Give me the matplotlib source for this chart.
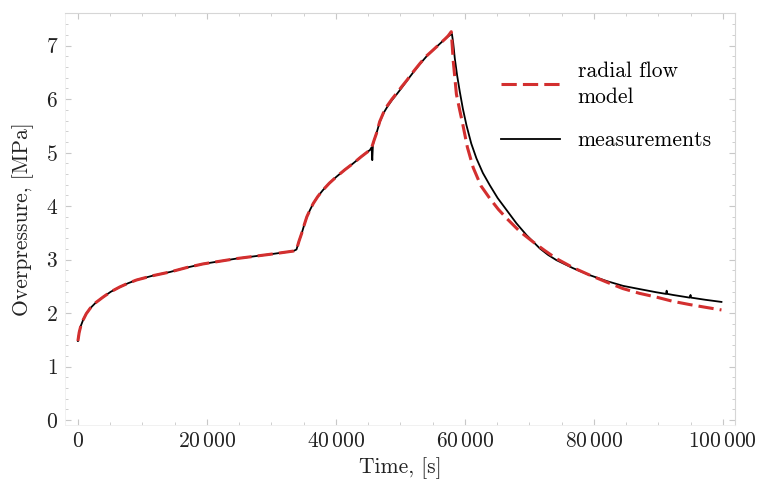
import matplotlib
matplotlib.use("Agg")
import matplotlib.pyplot as plt
from matplotlib.ticker import MultipleLocator, FuncFormatter

plt.rcParams["font.family"] = "serif"
plt.rcParams["font.serif"] = ["cmr10", "DejaVu Serif"]
plt.rcParams["mathtext.fontset"] = "cm"
plt.rcParams["axes.unicode_minus"] = False
plt.rcParams["axes.formatter.use_mathtext"] = True

# radial flow model (red dashed)
t_model = [0, 200, 450, 800, 1300, 1900, 2800, 3900, 5100, 6500, 7800, 9100, 11600,
           14300, 16800, 19400, 22000, 24600, 27200, 29800, 31600, 33400, 33900,
           34300, 34700, 35100, 35500, 36000, 36500, 37200, 38000, 39000, 40100,
           41400, 42700, 44000, 45300, 45600,
           45900, 46300, 46800, 47400, 48000, 48700, 49500, 50200, 51000, 52000,
           53000, 54000, 55100, 56000, 56900, 57400, 57900,
           58050, 58200, 58700, 59200, 59700, 60400, 61300, 62500, 63900, 65200,
           66500, 68500, 70600, 72400, 74200, 76800, 79400, 82000, 84500, 87100,
           89700, 92300, 94900, 97300, 99800]
p_model = [1.48, 1.64, 1.76, 1.87, 1.99, 2.09, 2.20, 2.30, 2.40, 2.49, 2.56, 2.62, 2.70,
           2.77, 2.85, 2.92, 2.97, 3.02, 3.06, 3.10, 3.13, 3.16, 3.19,
           3.35, 3.49, 3.65, 3.80, 3.93, 4.05, 4.18, 4.30, 4.43, 4.55,
           4.68, 4.80, 4.93, 5.05, 5.11,
           5.22, 5.36, 5.58, 5.75, 5.88, 6.00, 6.12, 6.23, 6.35, 6.51,
           6.66, 6.80, 6.92, 7.02, 7.12, 7.18, 7.26,
           7.00, 6.72, 6.09, 5.80, 5.52, 5.10, 4.72, 4.38, 4.14, 3.94,
           3.77, 3.53, 3.33, 3.17, 3.02, 2.85, 2.71, 2.58, 2.46, 2.37,
           2.30, 2.22, 2.16, 2.11, 2.06]

# measurements (black)
t_meas = [0, 200, 450, 800, 1300, 1900, 2800, 3900, 5100, 6500, 7800, 9100, 11600,
          14300, 16800, 19400, 22000, 24600, 27200, 29800, 31600, 33400, 33900,
          34300, 34700, 35100, 35500, 36000, 36500, 37200, 38000, 39000, 40100,
          41400, 42700, 44000, 45300, 45550, 45650, 45750,
          45900, 46300, 46800, 47400, 48000, 48700, 49500, 50200, 51000, 52000,
          53000, 54000, 55100, 56000, 56900, 57400, 58000,
          58200, 58450, 58800, 59220, 59700, 60260, 61000, 61810, 62800, 63880,
          65100, 66460, 68000, 69560, 71630, 72900, 74220, 76800, 79380, 82000,
          84540, 87100, 89720, 91200, 91300, 91400, 92300, 94880, 95000, 95100,
          97300, 99800]
p_meas = [1.48, 1.64, 1.76, 1.87, 1.99, 2.09, 2.20, 2.30, 2.40, 2.49, 2.56, 2.62, 2.70,
          2.77, 2.85, 2.92, 2.97, 3.02, 3.06, 3.10, 3.13, 3.16, 3.19,
          3.35, 3.49, 3.65, 3.80, 3.93, 4.05, 4.18, 4.30, 4.43, 4.55,
          4.68, 4.80, 4.93, 5.05, 5.10, 4.86, 5.14,
          5.22, 5.36, 5.57, 5.74, 5.86, 5.98, 6.10, 6.21, 6.34, 6.50,
          6.65, 6.79, 6.92, 7.02, 7.12, 7.17, 7.22,
          7.05, 6.76, 6.45, 6.14, 5.82, 5.51, 5.17, 4.89, 4.62, 4.39,
          4.15, 3.93, 3.68, 3.46, 3.21, 3.09, 2.99, 2.84, 2.71, 2.60,
          2.51, 2.45, 2.39, 2.36, 2.42, 2.36, 2.34, 2.29, 2.34, 2.29,
          2.25, 2.21]

red = "#d32f2f"
fs = 15.5

fig = plt.figure(figsize=(7.58, 4.92), dpi=100)
ax = fig.add_axes([65 / 758, 67 / 492, 670 / 758, 411.5 / 492])

ax.plot(t_meas, p_meas, color="black", lw=1.3, label="measurements", zorder=2)
ax.plot(t_model, p_model, color=red, lw=2.2, dashes=(5, 2),
        label="radial flow\nmodel", zorder=3)

ax.set_xlim(-2000, 101900)
ax.set_ylim(-0.09, 7.6)

ax.xaxis.set_major_locator(MultipleLocator(20000))
ax.xaxis.set_minor_locator(MultipleLocator(5000))
ax.yaxis.set_major_locator(MultipleLocator(1))
ax.yaxis.set_minor_locator(MultipleLocator(0.2))
ax.xaxis.set_major_formatter(FuncFormatter(
    lambda v, pos: "$" + f"{int(v):,}".replace(",", r"\,") + "$"))
ax.yaxis.set_major_formatter(FuncFormatter(lambda v, pos: f"${int(v)}$"))

ax.tick_params(which="both", direction="in", top=True, right=True,
               color="#c8c8c8", labelsize=fs, labelcolor="#222222")
ax.tick_params(which="major", length=4, width=0.8, pad=5)
ax.tick_params(which="minor", length=2.5, width=0.6)
for side in ["top", "right"]:
    ax.spines[side].set_color("#d6d6d6")
    ax.spines[side].set_linewidth(0.8)
for side in ["left", "bottom"]:
    ax.spines[side].set_color("#efefef")
    ax.spines[side].set_linewidth(0.6)

ax.set_xlabel("Time, [s]", fontsize=fs, color="#222222", labelpad=4)
ax.set_ylabel("Overpressure, [MPa]", fontsize=fs, color="#222222", labelpad=8)

handles, labels = ax.get_legend_handles_labels()
leg = ax.legend(handles[::-1], labels[::-1], loc="upper left",
                bbox_to_anchor=(0.635, 0.91), frameon=False, fontsize=fs,
                handlelength=2.75, handletextpad=0.8, labelspacing=1.13, borderpad=0)
for txt in leg.get_texts():
    txt.set_linespacing(1.4)

fig.savefig("out.png", dpi=100)
